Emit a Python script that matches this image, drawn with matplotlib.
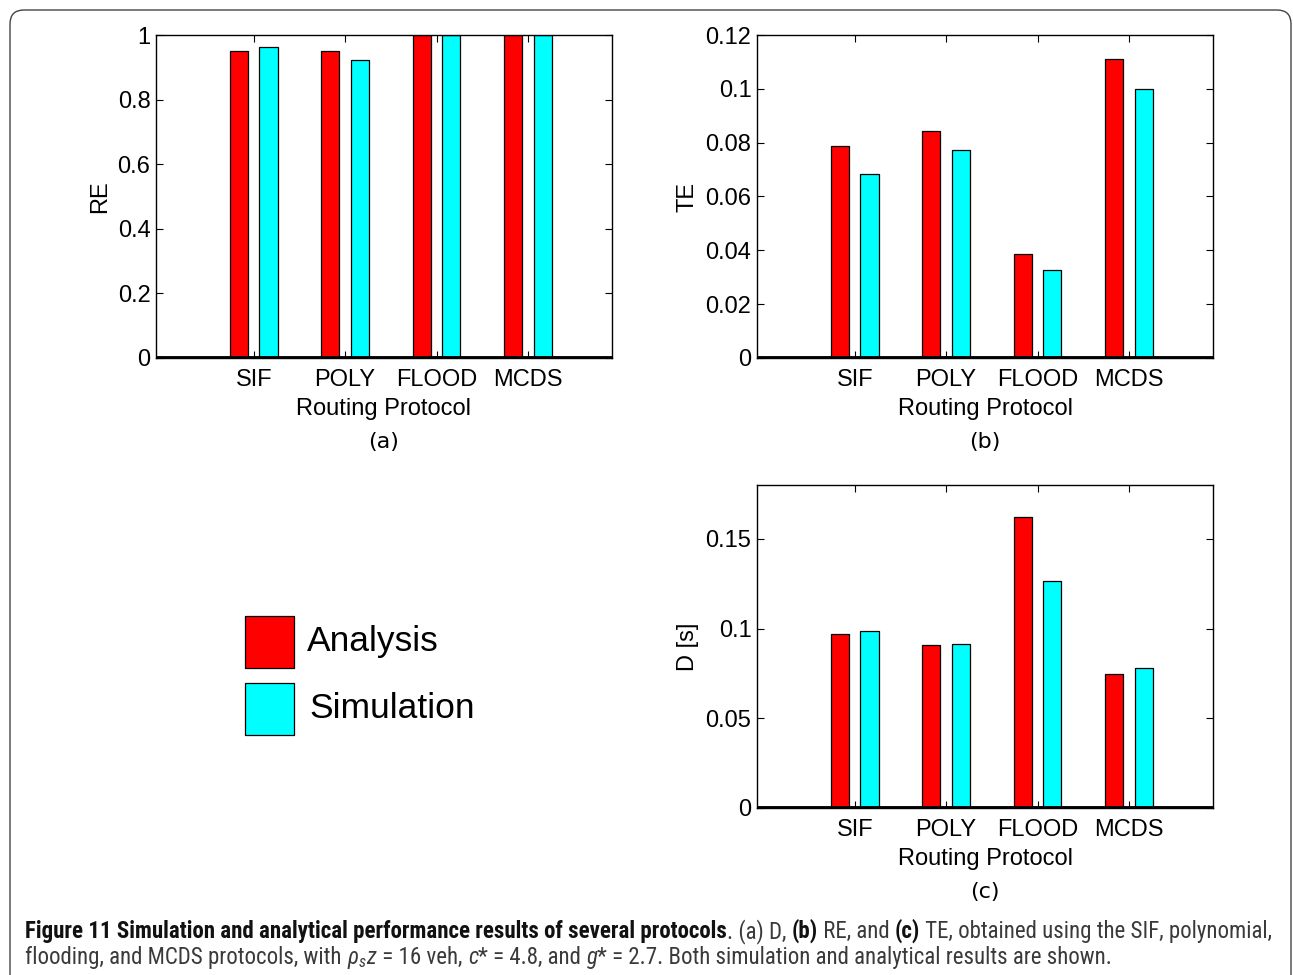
import matplotlib
matplotlib.use("Agg")
import matplotlib.pyplot as plt
import numpy as np
from matplotlib import font_manager, transforms as mtransforms
from matplotlib.patches import FancyBboxPatch, Rectangle

# ---------------- data ----------------
protocols = ["SIF", "POLY", "FLOOD", "MCDS"]
re_analysis = [0.952, 0.950, 1.0, 1.0]
re_simulation = [0.962, 0.922, 1.0, 1.0]
te_analysis = [0.0788, 0.0845, 0.0388, 0.1111]
te_simulation = [0.0683, 0.0772, 0.0327, 0.1000]
d_analysis = [0.0967, 0.0907, 0.1622, 0.0744]
d_simulation = [0.0985, 0.0915, 0.1263, 0.0780]
re_ticks = [0, 0.2, 0.4, 0.6, 0.8, 1]
te_ticks = [0, 0.02, 0.04, 0.06, 0.08, 0.1, 0.12]
d_ticks = [0, 0.05, 0.1, 0.15]
series_names = ["Analysis", "Simulation"]

RED = "#ff0000"
CYAN = "#00ffff"
W, H = 1293, 975

avail = {f.name for f in font_manager.fontManager.ttflist}
def pick(*names):
    for n in names:
        if n in avail:
            return n
    return "DejaVu Sans"

SANS = pick("Liberation Sans", "Arial", "DejaVu Sans")
NARROW = pick("Liberation Sans Narrow", "Roboto Condensed", "Open Sans Condensed",
              "Noto Sans Condensed", "Open Sans", "Noto Sans")

fig = plt.figure(figsize=(W / 100, H / 100), dpi=100)
fig.patch.set_facecolor("white")

def fx(px):
    return px / W
def fy(py):
    return 1 - py / H

FS = 17

def panel(left, top, right, bottom, a, s, yt, ylim, ylabel, tag):
    ax = fig.add_axes([fx(left), fy(bottom), fx(right) - fx(left), fy(top) - fy(bottom)])
    x = np.arange(1, len(protocols) + 1)
    ax.bar(x - 0.162, a, width=0.2, color=RED, edgecolor="black", linewidth=0.9, zorder=2)
    ax.bar(x + 0.162, s, width=0.2, color=CYAN, edgecolor="black", linewidth=0.9, zorder=2)
    ax.axhline(0, color="black", linewidth=3.5, zorder=3)
    ax.set_xlim(-0.07, 4.92)
    ax.set_ylim(*ylim)
    ax.set_xticks(x)
    ax.set_xticklabels(protocols, fontfamily=SANS, fontsize=FS)
    ax.set_yticks(yt)
    ax.set_yticklabels([("%g" % v) for v in yt], fontfamily=SANS, fontsize=FS)
    ax.tick_params(direction="in", length=5, width=0.8, top=True, right=True, pad=4)
    ax.tick_params(axis="x", pad=8)
    for sp in ax.spines.values():
        sp.set_linewidth(1.0)
    ax.set_xlabel("Routing Protocol", fontfamily=SANS, fontsize=FS, labelpad=5)
    ax.set_ylabel(ylabel, fontfamily=SANS, fontsize=FS, labelpad=5)
    cx = (left + right) / 2
    fig.text(fx(cx), fy(bottom + 84), tag, ha="center", va="center",
             fontfamily="DejaVu Sans", fontsize=16)
    return ax

panel(156, 35, 612, 358, re_analysis, re_simulation, re_ticks, (0, 1), "RE", "(a)")
panel(757, 35, 1213, 358, te_analysis, te_simulation, te_ticks, (0, 0.12), "TE", "(b)")
panel(757, 485, 1213, 808, d_analysis, d_simulation, d_ticks, (0, 0.18), "D [s]", "(c)")

# legend (figure-level key)
for (top, col, name, tx) in [(616, RED, series_names[0], 307), (683, CYAN, series_names[1], 309)]:
    fig.add_artist(Rectangle((fx(245), fy(top + 52)), fx(294) - fx(245), 52 / H,
                             transform=fig.transFigure, facecolor=col,
                             edgecolor="black", linewidth=0.9))
    fig.text(fx(tx), fy(top + 26), name, ha="left", va="center",
             fontfamily=SANS, fontsize=25.5)

# border
border = FancyBboxPatch((10, -30), 1281, 975 - 10 + 30, boxstyle="round,pad=0,rounding_size=14",
                        transform=mtransforms.IdentityTransform(), facecolor="none",
                        edgecolor="#444444", linewidth=1.0)
fig.patches.append(border)

# caption
plt.rcParams["mathtext.fontset"] = "custom"
plt.rcParams["mathtext.it"] = NARROW + ":italic"
plt.rcParams["mathtext.rm"] = NARROW
plt.rcParams["mathtext.bf"] = NARROW + ":bold"

renderer = fig.canvas.get_renderer()

line1 = [
    ("Figure 11 Simulation and analytical performance results of several protocols", True, False),
    (". (a) D, ", False, False),
    ("(b)", True, False),
    (" RE, and ", False, False),
    ("(c)", True, False),
    (" TE, obtained using the SIF, polynomial,", False, False),
]
line2 = [
    ("flooding, and MCDS protocols, with ", False, False),
    (r"$\rho_s z$", False, False),
    (" = 16 veh, ", False, False),
    ("c", False, True),
    ("* = 4.8, and ", False, False),
    ("g", False, True),
    ("* = 2.7. Both simulation and analytical results are shown.", False, False),
]

def segs(x0, ybase, parts, size):
    x = x0
    made = []
    for txt, bold, italic in parts:
        t = fig.text(x / W, fy(ybase), txt, fontfamily=NARROW, fontsize=size,
                     fontweight="bold" if bold else "normal",
                     fontstyle="italic" if italic else "normal",
                     color="#111111" if bold else "#3a3a3a", va="baseline", ha="left")
        bb = t.get_window_extent(renderer)
        x = bb.x1
        made.append(t)
    return x, made

CAP = 14.0
end, made = segs(25, 938, line1, CAP)
CAP = CAP * (1278 - 25) / (end - 25)
for t in made:
    t.remove()
segs(25, 938, line1, CAP)
segs(25, 964, line2, CAP)

fig.savefig("out.png", dpi=100, facecolor="white")
